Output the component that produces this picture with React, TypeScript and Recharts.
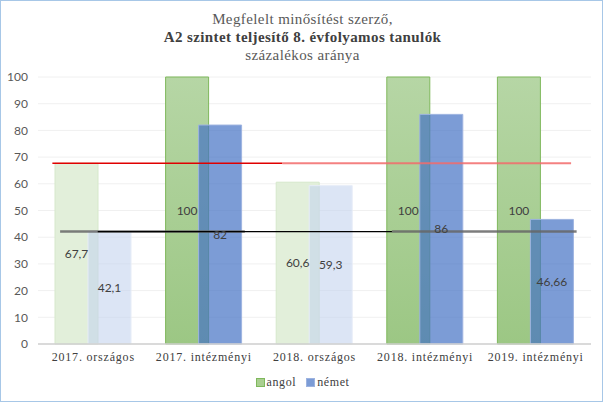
import { Bar, BarChart, CartesianGrid, Cell, LabelList, ReferenceLine, XAxis, YAxis } from "recharts";

const categories = ["2017. országos", "2017. intézményi", "2018. országos", "2018. intézményi", "2019. intézményi"];
const angol = [67.7, 100, 60.6, 100, 100];
const nemet = [42.1, 82, 59.3, 86, 46.66];
// the "országos" groups are drawn faded
const faded = [true, false, true, false, false];
const yTicks = [0, 10, 20, 30, 40, 50, 60, 70, 80, 90, 100];
const seriesNames = ["angol", "német"];

// horizontal marker lines, x given in category units (0..5)
const markerY = [67.7, 67.7, 42.1, 42.1, 42.1];
const markerFrom = [0.13, 2.21, 0.2, 3.2, 0.54];
const markerTo = [2.21, 4.82, 1.87, 4.87, 3.2];
const markerColor = ["#e00000", "#f26b6b", "#666666", "#666666", "#000000"];
const markerWidth = [1.5, 2, 2.5, 2.5, 1.2];
const markerOpacity = [1, 0.85, 0.85, 0.85, 1];

const data = categories.map((category, i) => ({ category, angol: angol[i], nemet: nemet[i] }));

const serif = "'Liberation Serif', Tinos, 'Times New Roman', 'DejaVu Serif', 'Noto Serif', FreeSerif, serif";
const sans = "Lato, 'Open Sans', sans-serif";

const fmt = (v: any) => String(v).replace(".", ",");

const markerShape = (i: number) => (p: any) => {
  const w = p.x2 - p.x1;
  const n = categories.length;
  return (
    <line
      x1={p.x1 + (w * markerFrom[i]) / n}
      x2={p.x1 + (w * markerTo[i]) / n}
      y1={p.y1}
      y2={p.y2}
      stroke={markerColor[i]}
      strokeWidth={markerWidth[i]}
      strokeOpacity={markerOpacity[i]}
    />
  );
};

export default function App() {
  return (
    <div style={{ position: "absolute", left: 0, top: 0, width: 605, height: 404, background: "#fff" }}>
      <div
        style={{
          position: "absolute",
          left: 0,
          top: 0,
          width: 601,
          height: 400,
          border: "1px solid #a7c7e7",
        }}
      />
      <div
        style={{
          position: "absolute",
          left: 0,
          top: 10,
          width: 605,
          textAlign: "center",
          fontFamily: serif,
          fontSize: 15,
          letterSpacing: 0.4,
          lineHeight: "18px",
          color: "#595959",
        }}
      >
        <div>Megfelelt minősítést szerző,</div>
        <div style={{ fontWeight: "bold", color: "#404040" }}>A2 szintet teljesítő 8. évfolyamos tanulók</div>
        <div>százalékos aránya</div>
      </div>
      <div style={{ position: "absolute", left: 0, top: 0 }}>
        <BarChart
          width={605}
          height={404}
          data={data}
          margin={{ top: 77, right: 14, left: 0, bottom: 0 }}
          barGap={-10}
          barSize={43}
        >
          <defs>
            <linearGradient id="greenGrad" x1="0" y1="0" x2="0" y2="1">
              <stop offset="0%" stopColor="#b6d6a5" />
              <stop offset="100%" stopColor="#9cc784" />
            </linearGradient>
          </defs>
          <CartesianGrid vertical={false} stroke="#f0f0f0" />
          <XAxis
            dataKey="category"
            height={60}
            tickLine={false}
            axisLine={{ stroke: "#d0d0d0", strokeWidth: 1.5 }}
            tick={{ fontFamily: serif, fontSize: 12, fill: "#404040", letterSpacing: 0.8 }}
            interval={0}
          />
          <YAxis
            domain={[0, 100]}
            ticks={yTicks}
            width={38}
            axisLine={false}
            tickLine={false}
            tickMargin={4}
            tick={{ fontFamily: sans, fontSize: 12, fill: "#595959" }}
          />
          <Bar dataKey="angol" name={seriesNames[0]} isAnimationActive={false}>
            {data.map((d, i) => (
              <Cell
                key={d.category}
                fill={faded[i] ? "#e2efda" : "url(#greenGrad)"}
                stroke={faded[i] ? "#d6e8cb" : "#7fb85c"}
                strokeWidth={1}
              />
            ))}
            <LabelList dataKey="angol" position="center" formatter={fmt} fill="#404040" fontFamily={sans} fontSize={12} />
          </Bar>
          <Bar dataKey="nemet" name={seriesNames[1]} isAnimationActive={false}>
            {data.map((d, i) => (
              <Cell
                key={d.category}
                fill={faded[i] ? "#c5d3ee" : "#4472c4"}
                fillOpacity={faded[i] ? 0.6 : 0.7}
                stroke={faded[i] ? "#e6ecf7" : "#9db3e0"}
                strokeWidth={1}
              />
            ))}
            <LabelList dataKey="nemet" position="center" formatter={fmt} fill="#404040" fontFamily={sans} fontSize={12} />
          </Bar>
          {markerY.map((y, i) => (
            <ReferenceLine key={i} y={y} stroke={markerColor[i]} shape={markerShape(i)} />
          ))}
        </BarChart>
      </div>
      <div
        style={{
          position: "absolute",
          left: 0,
          top: 375,
          width: 605,
          display: "flex",
          justifyContent: "center",
          gap: 10,
          fontFamily: serif,
          fontSize: 12,
          letterSpacing: 0.6,
          color: "#404040",
        }}
      >
        {seriesNames.map((name, i) => (
          <div key={name} style={{ display: "flex", alignItems: "center", gap: 2 }}>
            <span
              style={{
                display: "inline-block",
                width: 7,
                height: 7,
                background: i === 0 ? "#a9cf90" : "#7c9cd6",
                border: `1px solid ${i === 0 ? "#7fb85c" : "#9db3e0"}`,
              }}
            />
            <span>{name}</span>
          </div>
        ))}
      </div>
    </div>
  );
}
